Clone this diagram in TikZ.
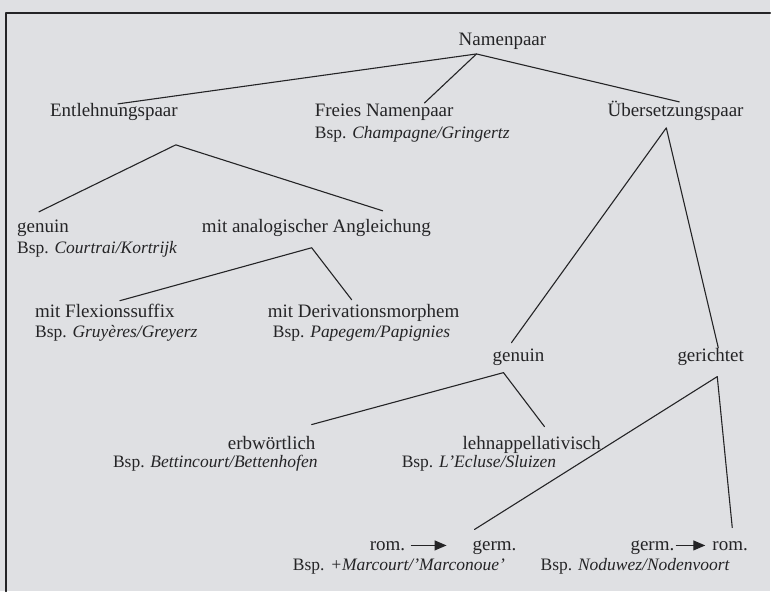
\documentclass[tikz,border=0pt]{standalone}
\usepackage{fontspec}
\setmainfont{Liberation Serif}
\usetikzlibrary{arrows.meta}
\definecolor{paper}{RGB}{223,224,227}
\definecolor{ink}{RGB}{36,36,38}
\tikzset{
  lab/.style={anchor=base west,inner sep=0pt,text=ink,font=\fontsize{19}{22}\selectfont},
  bsp/.style={anchor=base west,inner sep=0pt,text=ink,font=\fontsize{17.5}{20}\selectfont},
  branch/.style={draw=ink,line width=1.1pt},
  pfeil/.style={draw=ink,line width=1.1pt,-{Triangle[length=12pt,width=10pt]}}
}
\begin{document}
\begin{tikzpicture}[x=1pt,y=-1pt,line cap=round,line join=round]
  \fill[paper] (0,0) rectangle (771,592);
  \draw[ink,line width=1.6pt] (6,592) -- (6,13) -- (771,13);
  % headings
  \node[lab] (np) at (459,46) {Namenpaar};
  \node[lab] (ent) at (50,117) {Entlehnungspaar};
  \node[lab] (fnp) at (315,117) {Freies Namenpaar};
  \node[lab] (ues) at (608,117) {Übersetzungspaar};
  \node[lab] (gen1) at (17,233) {genuin};
  \node[lab] (ana) at (202,233) {mit analogischer Angleichung};
  \node[lab] (flex) at (35,318) {mit Flexionssuffix};
  \node[lab] (deriv) at (268,318) {mit Derivationsmorphem};
  \node[lab] (gen2) at (493,362) {genuin};
  \node[lab] (ger) at (678,362) {gerichtet};
  \node[lab] (erb) at (228,450) {erbwörtlich};
  \node[lab] (lehn) at (463,450) {lehnappellativisch};
  \node[lab] (rom1) at (370,551) {rom.};
  \node[lab] (germ1) at (473,551) {germ.};
  \node[lab] (germ2) at (631,551) {germ.};
  \node[lab] (rom2) at (713,551) {rom.};
  % examples
  \node[bsp] (fnp-b) at (315,139) {Bsp. \textit{Champagne/Gringertz}};
  \node[bsp] (gen1-b) at (17,254) {Bsp. \textit{Courtrai/Kortrijk}};
  \node[bsp] (flex-b) at (35,338) {Bsp. \textit{Gruyères/Greyerz}};
  \node[bsp] (deriv-b) at (273,338) {Bsp. \textit{Papegem/Papignies}};
  \node[bsp] (erb-b) at (113,468) {Bsp. \textit{Bettincourt/Bettenhofen}};
  \node[bsp] (lehn-b) at (402,468) {Bsp. \textit{L'Ecluse/Sluizen}};
  \node[bsp] (rom1-b) at (293,571) {Bsp. \textit{+Marcourt/'Marconoue'}};
  \node[bsp] (germ2-b) at (541,571) {Bsp. \textit{Noduwez/Nodenvoort}};
  % branches
  \draw[branch] ([shift={(68,-13)}]ent.base west) -- ([shift={(18,8)}]np.base west)
    -- ([shift={(72,-15)}]ues.base west);
  \draw[branch] ([shift={(18,8)}]np.base west) -- ([shift={(110,-14)}]fnp.base west);
  \draw[branch] ([shift={(22,-21)}]gen1.base west) -- ([shift={(126,28)}]ent.base west)
    -- ([shift={(181,-22)}]ana.base west);
  \draw[branch] ([shift={(85,-17)}]flex.base west) -- ([shift={(110,15)}]ana.base west)
    -- ([shift={(84,-18)}]deriv.base west);
  \draw[branch] ([shift={(19,-19)}]gen2.base west) -- ([shift={(59,11)}]ues.base west)
    -- ([shift={(41,-14)}]ger.base west);
  \draw[branch] ([shift={(84,-25)}]erb.base west) -- ([shift={(11,11)}]gen2.base west)
    -- ([shift={(82,-23)}]lehn.base west);
  \draw[branch] ([shift={(2,-21)}]germ1.base west) -- ([shift={(40,15)}]ger.base west)
    -- ([shift={(20,-23)}]rom2.base west);
  % direction arrows
  \draw[pfeil] ([shift={(6,-5)}]rom1.base east) -- ([shift={(-26,-5)}]germ1.base west);
  \draw[pfeil] ([shift={(2,-5)}]germ2.base east) -- ([shift={(-7,-5)}]rom2.base west);
\end{tikzpicture}
\end{document}
